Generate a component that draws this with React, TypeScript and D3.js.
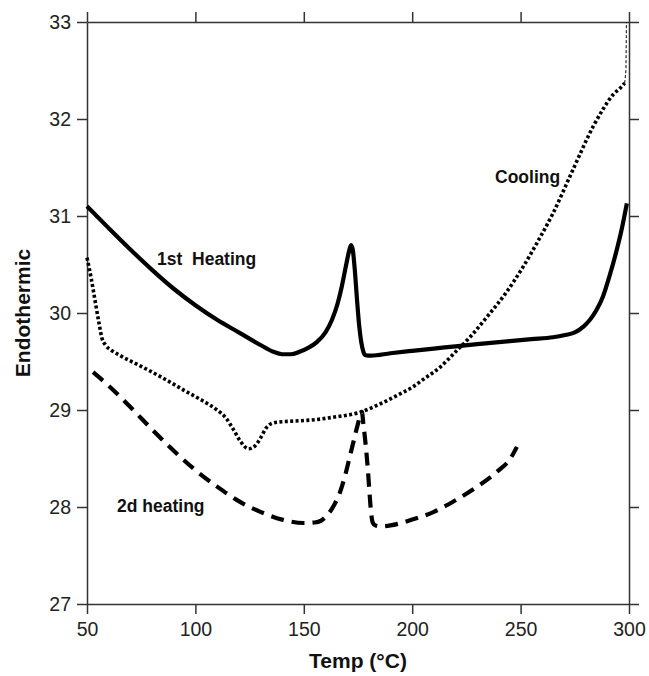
import { useEffect, useRef } from 'react';
import * as d3 from 'd3';

// 1st heating (solid)
const heat1T = [50, 60, 70, 80, 90, 100, 110, 120, 130, 136, 140, 144, 148, 152, 156, 160, 163, 165.5, 167.5, 169.3, 170.8, 171.8, 172.6, 173.5, 174.5, 175.5, 176.5, 177.5, 178.5, 181, 190, 200, 215, 230, 245, 255, 265, 270, 275, 279, 282, 285, 288, 291, 294, 296.5, 299];
const heat1V = [31.1, 30.875, 30.655, 30.445, 30.25, 30.08, 29.93, 29.8, 29.67, 29.6, 29.575, 29.575, 29.6, 29.64, 29.7, 29.8, 29.93, 30.09, 30.27, 30.47, 30.63, 30.7, 30.65, 30.45, 30.15, 29.88, 29.7, 29.6, 29.565, 29.56, 29.585, 29.61, 29.645, 29.68, 29.71, 29.73, 29.75, 29.77, 29.8, 29.86, 29.93, 30.03, 30.17, 30.38, 30.62, 30.85, 31.13];

// cooling (dotted)
const coolT = [50, 52, 53.7, 55.5, 56.9, 58.5, 61, 65, 75, 85, 95, 103, 110, 114, 117.5, 121, 124.5, 127.5, 130, 132.5, 135, 138, 145, 155, 165, 175, 185, 193, 200.4, 206, 212.8, 220, 227, 234.5, 243, 251, 258, 265, 274, 283.4, 288, 292.6, 296, 298];
const coolV = [30.57, 30.35, 30.13, 29.9, 29.74, 29.67, 29.62, 29.565, 29.45, 29.33, 29.2, 29.1, 29.0, 28.92, 28.8, 28.67, 28.6, 28.63, 28.71, 28.81, 28.86, 28.875, 28.885, 28.9, 28.93, 28.97, 29.06, 29.15, 29.24, 29.33, 29.44, 29.6, 29.76, 29.96, 30.2, 30.47, 30.74, 31.03, 31.47, 31.92, 32.1, 32.25, 32.32, 32.37];

// thin dashed end of cooling run
const coolTailT = [298, 298.6, 298.8];
const coolTailV = [32.37, 32.5, 33.0];

// 2d heating (dashed)
const heat2T = [52.8, 60, 70, 80, 90, 100, 110, 120, 130, 140, 150, 155, 158, 161, 164, 166.5, 169, 171, 173, 175, 176.8, 177.5, 178.5, 179.5, 180.3, 181, 181.8, 183, 185, 190, 200, 210, 220, 230, 240, 245, 248.3];
const heat2V = [29.39, 29.25, 29.03, 28.8, 28.58, 28.38, 28.21, 28.06, 27.95, 27.87, 27.835, 27.84, 27.86, 27.92, 28.02, 28.14, 28.32, 28.5, 28.68, 28.86, 28.98, 28.85, 28.65, 28.4, 28.15, 27.95, 27.84, 27.81, 27.8, 27.81, 27.87, 27.95, 28.07, 28.21, 28.38, 28.49, 28.62];

const xTicks = [50, 100, 150, 200, 250, 300];
const yTicks = [27, 28, 29, 30, 31, 32, 33];

const W = 649;
const H = 676;
const FONT = '"Liberation Sans", Arial, sans-serif';

export default function App() {
  const svgRef = useRef<SVGSVGElement>(null);

  useEffect(() => {
    if (!svgRef.current) return;
    const svg = d3.select(svgRef.current);
    svg.selectAll('*').remove();

    const left = 87, right = 629, top = 22, bottom = 604;
    const x = d3.scaleLinear().domain([50, 300]).range([left, right]);
    const y = d3.scaleLinear().domain([27, 33]).range([bottom, top]);

    const axisColor = '#333';
    const tickLen = 10;

    // frame with outward ticks on every side
    svg.append('g')
      .attr('transform', `translate(0,${bottom})`)
      .call(d3.axisBottom(x).tickValues(xTicks).tickSize(tickLen).tickSizeOuter(0).tickPadding(8).tickFormat(d3.format('d')))
      .call(g => g.selectAll('text').style('font-size', '19.5px').style('font-family', FONT).attr('fill', '#222'));
    svg.append('g')
      .attr('transform', `translate(0,${top})`)
      .call(d3.axisTop(x).tickValues(xTicks).tickSize(tickLen).tickSizeOuter(0).tickFormat(() => ''));
    svg.append('g')
      .attr('transform', `translate(${left},0)`)
      .call(d3.axisLeft(y).tickValues(yTicks).tickSize(tickLen).tickSizeOuter(0).tickPadding(6).tickFormat(d3.format('d')))
      .call(g => g.selectAll('text').style('font-size', '19.5px').style('font-family', FONT).attr('fill', '#222'));
    svg.append('g')
      .attr('transform', `translate(${right},0)`)
      .call(d3.axisRight(y).tickValues(yTicks).tickSize(tickLen).tickSizeOuter(0).tickFormat(() => ''));

    svg.selectAll('.domain, .tick line')
      .attr('stroke', axisColor)
      .attr('stroke-width', 1.5);

    const line = d3.line<[number, number]>()
      .x(d => x(d[0]))
      .y(d => y(d[1]))
      .curve(d3.curveMonotoneX);

    const zip = (t: number[], v: number[]) => t.map((d, i) => [d, v[i]] as [number, number]);

    svg.append('path')
      .attr('d', line(zip(heat1T, heat1V)))
      .attr('fill', 'none')
      .attr('stroke', '#000')
      .attr('stroke-width', 4.2)
      .attr('stroke-linejoin', 'round');

    svg.append('path')
      .attr('d', line(zip(coolT, coolV)))
      .attr('fill', 'none')
      .attr('stroke', '#000')
      .attr('stroke-width', 3.6)
      .attr('stroke-dasharray', '3 2.4');

    svg.append('path')
      .attr('d', d3.line<[number, number]>().x(d => x(d[0])).y(d => y(d[1]))(zip(coolTailT, coolTailV)))
      .attr('fill', 'none')
      .attr('stroke', '#000')
      .attr('stroke-width', 1)
      .attr('stroke-dasharray', '3 2');

    svg.append('path')
      .attr('d', line(zip(heat2T, heat2V)))
      .attr('fill', 'none')
      .attr('stroke', '#000')
      .attr('stroke-width', 4.2)
      .attr('stroke-dasharray', '13 8');

    // curve labels
    const labels = [
      { text: '1st  Heating', x: 157, y: 265 },
      { text: 'Cooling', x: 495, y: 183 },
      { text: '2d heating', x: 117, y: 512 },
    ];
    svg.selectAll('.lbl')
      .data(labels)
      .join('text')
      .attr('class', 'lbl')
      .attr('x', d => d.x)
      .attr('y', d => d.y)
      .style('font-family', FONT)
      .style('font-size', '17.5px')
      .style('font-weight', 'bold')
      .attr('fill', '#111')
      .style('white-space', 'pre')
      .text(d => d.text);

    // axis titles
    svg.append('text')
      .attr('x', (left + right) / 2)
      .attr('y', 668)
      .attr('text-anchor', 'middle')
      .style('font-family', FONT)
      .style('font-size', '21px')
      .style('font-weight', 'bold')
      .attr('fill', '#111')
      .text('Temp (°C)');

    svg.append('text')
      .attr('transform', `translate(30,${(top + bottom) / 2}) rotate(-90)`)
      .attr('text-anchor', 'middle')
      .style('font-family', FONT)
      .style('font-size', '21px')
      .style('font-weight', 'bold')
      .attr('fill', '#111')
      .text('Endothermic');
  }, []);

  return (
    <svg
      ref={svgRef}
      width={W}
      height={H}
      style={{ position: 'absolute', left: 0, top: 0, background: '#fff' }}
    />
  );
}
